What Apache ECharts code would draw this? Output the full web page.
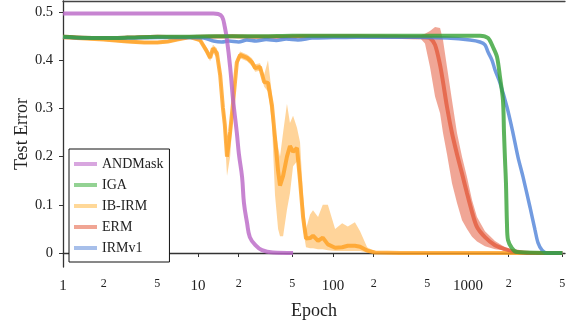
<!DOCTYPE html>
<html><head><meta charset="utf-8">
<script src="https://cdn.jsdelivr.net/npm/echarts@6/dist/echarts.min.js"></script>
<style>html,body{margin:0;padding:0;background:#fff}#c{width:568px;height:328px}</style>
</head><body><div id="c"></div>
<script>
const xTicks = [1,2,5,10,20,50,100,200,500,1000,2000,5000];
const yTicks = [0,0.1,0.2,0.3,0.4,0.5];

const andEpochs = [1,5,10,13,14.1,15.1,15.8,16.4,17.3,18.2,19.4,20.1,21.2,21.9,23.1,24.2,26.5,29.8,35.9,50.6];
const andVals   = [0.497,0.497,0.497,0.497,0.496,0.490,0.469,0.442,0.386,0.317,0.249,0.205,0.158,0.104,0.062,0.033,0.017,0.006,0.001,0.0];

const igaEpochs = [1,2,3,5,8,12,20,30,50,80,120,200,300,500,800,1227,1407,1533,1640,1726,1816,1848,1880,1911,1944,1978,2118,2306,5000];
const igaVals   = [0.449,0.446,0.447,0.449,0.449,0.450,0.450,0.450,0.451,0.451,0.451,0.451,0.451,0.451,0.451,0.451,0.446,0.427,0.407,0.365,0.317,0.249,0.193,0.145,0.060,0.027,0.010,0.002,0.0];

const ibEpochs = [1,2,3,4,5,6,7,8,8.7,10.35,11.7,12.3,12.9,13.8,14.6,15.3,15.8,16.4,17.3,18.2,19.4,20.5,23.1,25.1,26.5,28.8,30.9,33.0,35.3,37.2,39.2,40.5,42.7,45.6,48.0,50.6,54.1,57.0,60.0,63.1,67.6,71.1,77.5,84.0,91.6,103.7,116.9,128.7,145.3,158.7,179,205,314,5000];
const ibVals   = [0.448,0.443,0.439,0.437,0.437,0.439,0.443,0.446,0.448,0.442,0.417,0.405,0.425,0.415,0.369,0.301,0.266,0.200,0.251,0.313,0.396,0.411,0.405,0.396,0.384,0.386,0.355,0.353,0.307,0.239,0.170,0.140,0.160,0.200,0.222,0.210,0.218,0.150,0.075,0.030,0.031,0.036,0.025,0.032,0.018,0.011,0.012,0.015,0.015,0.013,0.005,0.001,0,0];
const ibLow    = [0.445,0.440,0.436,0.434,0.434,0.436,0.440,0.443,0.445,0.438,0.410,0.398,0.415,0.405,0.355,0.285,0.240,0.160,0.200,0.290,0.385,0.404,0.398,0.388,0.376,0.378,0.345,0.335,0.270,0.120,0.050,0.035,0.035,0.090,0.124,0.180,0.190,0.120,0.050,0.012,0.010,0.010,0.008,0.008,0.006,0.004,0.004,0.004,0.004,0.004,0.001,0,0,0];
const ibHigh   = [0.451,0.446,0.442,0.440,0.440,0.442,0.446,0.449,0.451,0.446,0.425,0.412,0.432,0.425,0.385,0.318,0.290,0.225,0.270,0.330,0.405,0.418,0.412,0.404,0.392,0.394,0.370,0.400,0.330,0.260,0.220,0.200,0.250,0.310,0.270,0.285,0.260,0.230,0.120,0.050,0.080,0.089,0.075,0.100,0.100,0.050,0.062,0.055,0.064,0.045,0.012,0.003,0.002,0.002];

const ermEpochs = [1,2,3,5,8,12,18,25,40,60,100,150,250,400,441,480,523,570,621,653,699,761,829,903,983,1071,1166,1336,1585,1880,2230,2880,5000];
const ermVals   = [0.449,0.446,0.447,0.449,0.448,0.449,0.450,0.449,0.449,0.450,0.450,0.450,0.449,0.448,0.448,0.448,0.446,0.432,0.390,0.355,0.303,0.249,0.205,0.165,0.124,0.085,0.054,0.033,0.016,0.008,0.003,0.0,0.0];
const ermLow    = [0.446,0.443,0.444,0.446,0.445,0.446,0.447,0.446,0.446,0.447,0.447,0.447,0.446,0.445,0.446,0.435,0.386,0.325,0.290,0.249,0.205,0.145,0.104,0.068,0.050,0.034,0.024,0.014,0.008,0.005,0.002,0,0];
const ermHigh   = [0.452,0.449,0.450,0.452,0.451,0.452,0.453,0.452,0.452,0.453,0.453,0.453,0.452,0.451,0.452,0.455,0.461,0.469,0.467,0.442,0.386,0.317,0.249,0.200,0.158,0.110,0.075,0.045,0.025,0.012,0.004,0,0];

const irmEpochs = [1,2,3,5,8,11,13,15,17,20,23,27,32,38,45,55,70,100,150,250,400,700,1035,1227,1336,1407,1507,1585,1726,1944,2154,2346,2556,2880,3135,3303,3535,3846,5000];
const irmVals   = [0.448,0.446,0.446,0.447,0.447,0.446,0.440,0.438,0.440,0.438,0.442,0.440,0.443,0.441,0.444,0.442,0.446,0.447,0.448,0.448,0.448,0.446,0.442,0.438,0.432,0.417,0.400,0.380,0.353,0.303,0.249,0.199,0.158,0.095,0.048,0.021,0.006,0.0,0.0];

const names = ['ANDMask','IGA','IB-IRM','ERM','IRMv1'];
const lineColors = {ANDMask:'#b965c6', IGA:'#35a135', 'IB-IRM':'#ffa020', ERM:'#e35d3f', IRMv1:'#4f82d8'};
const legendColors = {ANDMask:'#d8a6df', IGA:'#93d293', 'IB-IRM':'#ffd898', ERM:'#f0a594', IRMv1:'#a7bfea'};

const FONT = "'Liberation Serif','Times New Roman',serif";
const pairs = (xs, ys) => xs.map((x,i)=>[x, ys[i]]);

function band(xs, lo, hi, color, op) {
  return {
    type:'custom', silent:true, z:1, clip:true,
    data: xs.map((x,i)=>[x, lo[i], hi[i]]),
    encode:{x:0, y:[1,2]},
    renderItem: function(params, api){
      if (params.dataIndex !== 0) return null;
      const pts = [];
      for (let i=0;i<xs.length;i++) pts.push(api.coord([xs[i], lo[i]]));
      for (let i=xs.length-1;i>=0;i--) pts.push(api.coord([xs[i], hi[i]]));
      return {type:'polygon', shape:{points:pts}, style:{fill:color, opacity:op}};
    }
  };
}
function line(name, xs, ys, w, smooth) {
  return {
    name, type:'line', data:pairs(xs, ys), showSymbol:false, symbol:'none', z:3,
    smooth: smooth || false,
    lineStyle:{color:lineColors[name], width:w, opacity:0.8},
    itemStyle:{color:lineColors[name]}
  };
}

const chart = echarts.init(document.getElementById('c'), null, {renderer:'canvas'});
chart.setOption({
  animation:false,
  grid:{left:63, right:3, top:1, bottom:61, containLabel:false, outerBoundsMode:'none'},
  legend:{
    orient:'vertical', left:69, top:149,
    data: names.map(n=>({name:n, itemStyle:{color:legendColors[n], opacity:1}})),
    icon:'rect', itemWidth:23, itemHeight:4, itemGap:5,
    padding:[7,6,6,5],
    borderColor:'#111', borderWidth:1, borderRadius:0, backgroundColor:'#fff',
    textStyle:{fontFamily:FONT, fontSize:14, color:'#222', lineHeight:16},
    selectedMode:false
  },
  xAxis:[{
    type:'log', logBase:10, min:1, max:5230,
    name:'Epoch', nameLocation:'middle', nameGap:35,
    nameTextStyle:{fontFamily:FONT, fontSize:18, color:'#222'},
    axisLine:{show:true, lineStyle:{color:'#333', width:1.3}},
    axisTick:{show:true, length:4, customValues:xTicks, lineStyle:{color:'#333'}},
    axisLabel:{
      customValues:xTicks, margin:11,
      formatter:function(v){
        const r = Math.round(v);
        if (r===1||r===10||r===100||r===1000) return '{a|'+r+'}';
        return '{b|'+String(r)[0]+'}';
      },
      rich:{
        a:{fontFamily:FONT, fontSize:15, color:'#222', lineHeight:16},
        b:{fontFamily:FONT, fontSize:12, color:'#222', lineHeight:16, padding:[0,0,5,0]}
      }
    },
    splitLine:{show:false}, minorTick:{show:false}
  },{
    type:'log', logBase:10, min:1, max:5230, position:'top',
    axisLine:{show:true, lineStyle:{color:'#444', width:1.3}},
    axisTick:{show:false}, axisLabel:{show:false}, splitLine:{show:false}
  }],
  yAxis:{
    type:'value', min:-0.029, max:0.523,
    name:'Test Error', nameLocation:'middle', nameGap:32, nameMoveOverlap:false,
    nameTextStyle:{fontFamily:FONT, fontSize:18, color:'#222'},
    axisLine:{show:true, lineStyle:{color:'#333', width:1.3}},
    axisTick:{show:true, length:4, customValues:yTicks, lineStyle:{color:'#333'}},
    axisLabel:{customValues:yTicks, margin:10, fontFamily:FONT, fontSize:14.5, color:'#222',
      formatter:v=> (Math.abs(v)<1e-9 ? '0' : v.toFixed(1))},
    splitLine:{show:false}
  },
  series:[
    band(ibEpochs, ibLow, ibHigh, lineColors['IB-IRM'], 0.45),
    band(ermEpochs, ermLow, ermHigh, lineColors.ERM, 0.55),
    line('IB-IRM', ibEpochs, ibVals, 4, false),
    line('ERM', ermEpochs, ermVals, 4, 0.3),
    line('IRMv1', irmEpochs, irmVals, 3.5, 0.3),
    line('ANDMask', andEpochs, andVals, 4, 0.4),
    line('IGA', igaEpochs, igaVals, 4, 0.3)
  ]
});
</script></body></html>
